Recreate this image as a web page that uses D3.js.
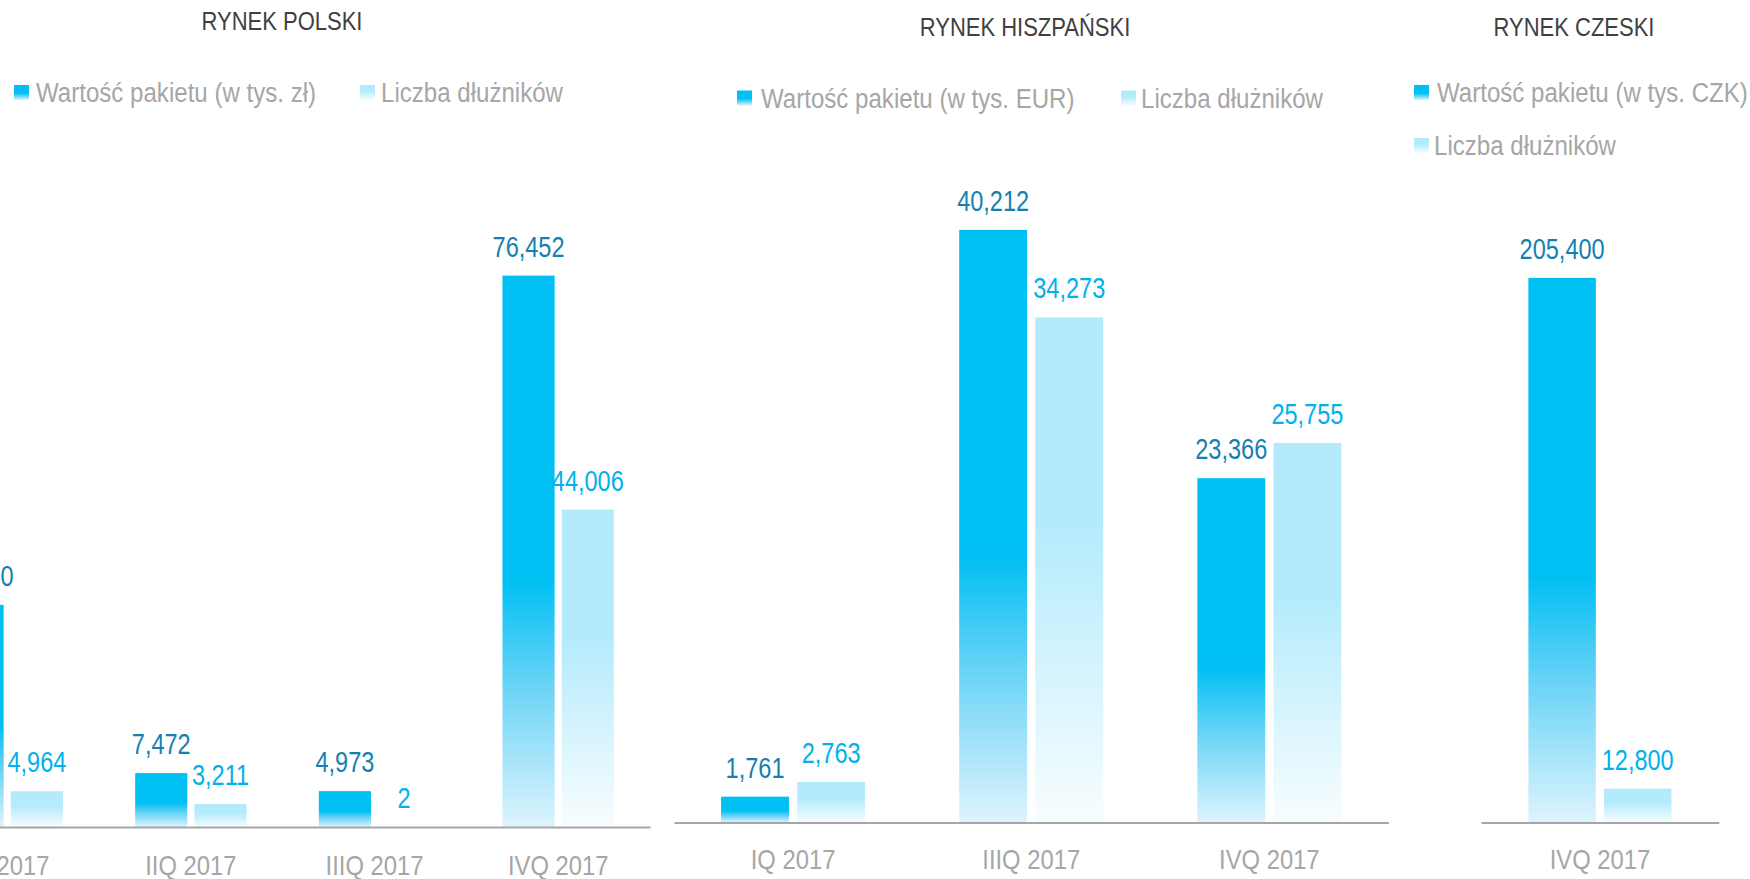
<!DOCTYPE html>
<html>
<head>
<meta charset="utf-8">
<script src="https://cdn.jsdelivr.net/npm/d3@7"></script>
<style>
  body { margin: 0; background: #fff; }
  svg { display: block; font-family: "Liberation Sans", Arial, sans-serif; }
  .title { fill: #404040; font-size: 25px; }
  .legend-text { fill: #a6a6a6; font-size: 28px; }
  .axis text { fill: #a6a6a6; font-size: 28px; font-family: "Liberation Sans", Arial, sans-serif; }
  .axis .domain { stroke: #a6a6a6; stroke-width: 2; }
  .val { font-size: 30px; text-anchor: middle; }
</style>
</head>
<body>
<svg id="chart" width="1750" height="879"></svg>
<script>
// dane
var plKwartaly = ["IQ 2017", "IIQ 2017", "IIIQ 2017", "IVQ 2017"];
var plWartosc = [30800, 7472, 4973, 76452];
var plDluznicy = [4964, 3211, 2, 44006];

var esKwartaly = ["IQ 2017", "IIIQ 2017", "IVQ 2017"];
var esWartosc = [1761, 40212, 23366];
var esDluznicy = [2763, 34273, 25755];

var czKwartaly = ["IVQ 2017"];
var czWartosc = [205400];
var czDluznicy = [12800];

var svg = d3.select("#chart");
var fmt = d3.format(",");

// brak fontu "Narrow" - zwezamy tekst recznie
var squeeze = { title: 0.88, legend: 0.86, val: 0.785, axis: 0.85 };

var defs = svg.append("defs");
function addGradient(id, stops) {
  var g = defs.append("linearGradient")
    .attr("id", id)
    .attr("x1", 0).attr("y1", 0).attr("x2", 0).attr("y2", 1);
  g.selectAll("stop")
    .data(stops)
    .join("stop")
    .attr("offset", d => d[0])
    .attr("stop-color", d => d[1]);
}
addGradient("gradDark", [[0, "#00bff3"], [0.55, "#00bff3"], [0.75, "#6dd4f6"], [1, "#def4fd"]]);
addGradient("gradLight", [[0, "#b3ebfc"], [0.4, "#b3ebfc"], [1, "#f8fdff"]]);

function drawPanel(cfg) {
  var g = svg.append("g");

  g.append("text")
    .attr("class", "title")
    .attr("transform", `translate(${cfg.titleX},${cfg.titleY}) scale(${squeeze.title},1)`)
    .attr("text-anchor", "middle")
    .text(cfg.title);

  // legenda
  var leg = g.selectAll(".leg")
    .data(cfg.legend)
    .join("g")
    .attr("class", "leg")
    .attr("transform", d => `translate(${d.x},${d.y})`);
  leg.append("rect")
    .attr("x", 0)
    .attr("y", -17)
    .attr("width", 15)
    .attr("height", 15)
    .attr("fill", d => d.fill);
  leg.append("text")
    .attr("class", "legend-text")
    .attr("transform", d => `translate(${d.dx},0) scale(${squeeze.legend},1)`)
    .text(d => d.label);

  var x0 = d3.scaleBand()
    .domain(cfg.categories)
    .range(cfg.xRange);

  var x1 = d3.scaleBand()
    .domain(["wartosc", "dluznicy"])
    .range([(x0.bandwidth() - cfg.groupWidth) / 2, (x0.bandwidth() + cfg.groupWidth) / 2])
    .paddingInner(cfg.innerPad);

  var y = d3.scaleLinear()
    .domain([0, cfg.yMax])
    .range([cfg.baseline, cfg.baseline - cfg.plotHeight]);

  var rows = cfg.categories.map((c, i) => ({
    cat: c,
    items: [
      { key: "wartosc", value: cfg.wartosc[i] },
      { key: "dluznicy", value: cfg.dluznicy[i] }
    ]
  }));

  var groups = g.selectAll(".grp")
    .data(rows)
    .join("g")
    .attr("class", "grp")
    .attr("transform", d => `translate(${x0(d.cat)},0)`);

  groups.selectAll("rect")
    .data(d => d.items)
    .join("rect")
    .attr("x", d => x1(d.key))
    .attr("y", d => y(d.value))
    .attr("width", x1.bandwidth())
    .attr("height", d => y(0) - y(d.value))
    .attr("fill", d => d.key == "wartosc" ? "url(#gradDark)" : "url(#gradLight)");

  groups.selectAll("text.val")
    .data(d => d.items)
    .join("text")
    .attr("class", "val")
    .attr("transform", d => `translate(${x1(d.key) + x1.bandwidth() / 2},${y(d.value) - 19}) scale(${squeeze.val},1)`)
    .attr("fill", d => d.key == "wartosc" ? "#1580b0" : "#00b1ec")
    .text(d => fmt(d.value));

  var axis = d3.axisBottom(x0)
    .tickSize(0)
    .tickSizeOuter(0)
    .tickPadding(cfg.labelPad);

  g.append("g")
    .attr("class", "axis")
    .attr("transform", `translate(0,${cfg.baseline})`)
    .call(axis)
    .call(a => a.selectAll(".tick text")
      .attr("fill", "#a6a6a6")
      .attr("transform", `scale(${squeeze.axis},1)`));
}

drawPanel({
  title: "RYNEK POLSKI", titleX: 282, titleY: 30,
  legend: [
    { x: 14, y: 102, dx: 22, label: "Wartość pakietu (w tys. zł)", fill: "url(#gradDark)" },
    { x: 360, y: 102, dx: 21, label: "Liczba dłużników", fill: "url(#gradLight)" }
  ],
  categories: plKwartaly, wartosc: plWartosc, dluznicy: plDluznicy,
  xRange: [-84.6, 650], groupWidth: 111.4, innerPad: 0.12,
  yMax: 80000, baseline: 827, plotHeight: 577, labelPad: 28
});

drawPanel({
  title: "RYNEK HISZPAŃSKI", titleX: 1025, titleY: 36,
  legend: [
    { x: 737, y: 107.5, dx: 24, label: "Wartość pakietu (w tys. EUR)", fill: "url(#gradDark)" },
    { x: 1121, y: 107.5, dx: 20, label: "Liczba dłużników", fill: "url(#gradLight)" }
  ],
  categories: esKwartaly, wartosc: esWartosc, dluznicy: esDluznicy,
  xRange: [674, 1388.4], groupWidth: 144, innerPad: 0.108,
  yMax: 45000, baseline: 822.6, plotHeight: 663.3, labelPad: 26.5
});

drawPanel({
  title: "RYNEK CZESKI", titleX: 1574, titleY: 36,
  legend: [
    { x: 1414, y: 102, dx: 23, label: "Wartość pakietu (w tys. CZK)", fill: "url(#gradDark)" },
    { x: 1414, y: 155, dx: 20, label: "Liczba dłużników", fill: "url(#gradLight)" }
  ],
  categories: czKwartaly, wartosc: czWartosc, dluznicy: czDluznicy,
  xRange: [1481, 1718.8], groupWidth: 143, innerPad: 0.108,
  yMax: 250000, baseline: 822.6, plotHeight: 663, labelPad: 26.5
});
</script>
</body>
</html>
